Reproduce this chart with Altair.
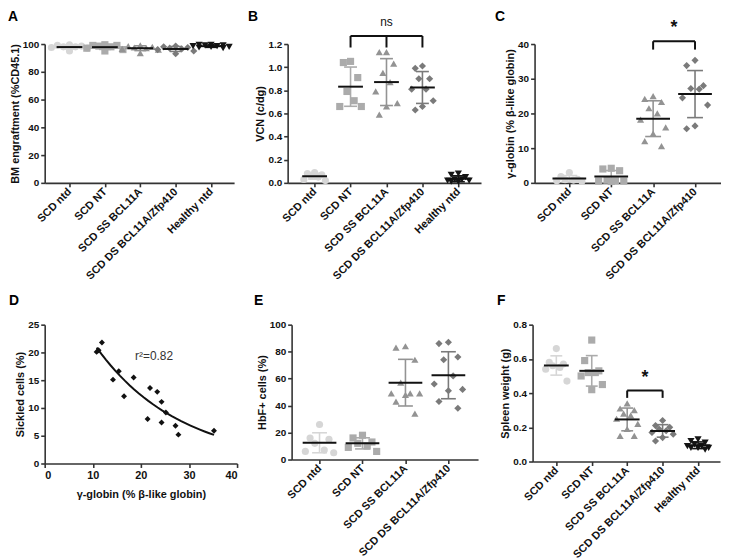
import json
import altair as alt
import pandas as pd

GROUPS = ["SCD ntd", "SCD NT", "SCD SS BCL11A", "SCD DS BCL11A/Zfp410", "Healthy ntd"]
GROUP_COLORS = ["#d6d6d6", "#ababab", "#939393", "#7a7a7a", "#151515"]
GROUP_SHAPES = ["circle", "square", "triangle-up", "diamond", "triangle-down"]

# A: BM engraftment (%CD45.1)
A_SCD_NTD = [99.5, 99.0, 98.5, 98.0, 98.0, 97.5, 97.0, 95.0]
A_SCD_NT = [99.5, 99.0, 99.0, 98.5, 98.0, 97.0, 96.0, 95.0]
A_SCD_SS = [99.0, 98.5, 98.0, 97.5, 97.0, 96.5, 96.0, 93.5]
A_SCD_DS = [98.5, 98.0, 97.5, 97.0, 96.5, 96.0, 95.0, 93.0]
A_HEALTHY = [99.5, 99.5, 99.0, 99.0, 98.5, 98.5, 98.0, 98.0, 97.5, 97.0]

# B: VCN (c/dg)
B_SCD_NTD = [0.09, 0.07, 0.08, 0.05, 0.03, 0.02, 0.06]
B_SCD_NT = [1.05, 1.04, 0.91, 0.79, 0.71, 0.66, 0.66]
B_SCD_SS = [1.13, 1.13, 1.03, 0.95, 0.87, 0.79, 0.69, 0.66, 0.59]
B_SCD_DS = [1.01, 0.99, 0.90, 0.90, 0.81, 0.81, 0.71, 0.63, 0.66]
B_HEALTHY = [0.08, 0.07, 0.05, 0.03, 0.02, 0.02, 0.01, 0.01, 0.03]

# C: gamma-globin (% beta-like globin)
C_SCD_NTD = [3.0, 1.8, 0.6, 0.8, 1.0, 0.5, 0.9]
C_SCD_NT = [4.2, 4.0, 3.5, 0.8, 0.5, 0.6, 0.4, 0.5]
C_SCD_SS = [25.0, 24.2, 23.3, 21.5, 20.0, 18.2, 16.0, 14.2, 12.0, 10.6]
C_SCD_DS = [35.3, 33.8, 28.0, 27.2, 27.0, 24.5, 22.4, 16.4, 15.6]

# D: sickled cells vs gamma-globin
D_GAMMA = [10.8, 11.2, 11.9, 14.2, 15.4, 16.5, 18.5, 21.4, 21.9, 23.4, 24.3, 24.3, 25.2, 27.2, 27.8, 35.2]
D_SICKLED = [20.1, 20.4, 21.8, 15.1, 16.6, 12.1, 15.5, 8.0, 13.6, 12.9, 11.1, 7.4, 9.2, 6.8, 5.2, 5.9]
D_R2_LABEL = "r\u00b2=0.82"
D_R2_AT = (18.8, 19.4)

# E: HbF+ cells (%)
E_SCD_NTD = [26, 16, 15, 12, 6, 5, 7]
E_SCD_NT = [18, 16, 13, 12, 10, 9, 6]
E_SCD_SS = [83, 84, 74, 57, 49, 48, 49, 49, 43, 34]
E_SCD_DS = [86, 87, 76, 74, 62, 56, 51, 52, 43, 38]

# F: Spleen weight (g)
F_SCD_NTD = [0.66, 0.58, 0.57, 0.56, 0.54, 0.55, 0.47]
F_SCD_NT = [0.71, 0.59, 0.53, 0.52, 0.50, 0.52, 0.42, 0.45]
F_SCD_SS = [0.34, 0.31, 0.30, 0.28, 0.27, 0.25, 0.22, 0.19, 0.15, 0.15]
F_SCD_DS = [0.24, 0.21, 0.20, 0.19, 0.18, 0.17, 0.16, 0.14, 0.12]
F_HEALTHY = [0.13, 0.12, 0.11, 0.10, 0.09, 0.09, 0.08, 0.08, 0.07, 0.08]

# significance brackets (annotations)
B_BRACKET = {"ends": [1, 3], "ticks": [1, 2, 3], "top": 1.27, "foot": 1.17, "label": "ns", "label_y": 1.33}
C_BRACKET = {"ends": [2, 3], "ticks": [2, 3], "top": 40.8, "foot": 38.4, "label": "*", "label_y": 42.0}
F_BRACKET = {"ends": [2, 3], "ticks": [2, 3], "top": 0.415, "foot": 0.372, "label": "*", "label_y": 0.438}

FONT = "Liberation Sans"


def panel_letter(letter, dx, dy):
    return alt.Chart(pd.DataFrame([{"t": letter}])).mark_text(
        align="left", baseline="alphabetic", fontSize=14, fontWeight="bold", font=FONT, color="#000000"
    ).encode(x=alt.value(dx), y=alt.value(dy), text="t:N")


def cat_panel(letter, series, ytitle, yticks, yfmt, xdomain, width, height,
              jitter, mean_len, cap_len, dx, dy, bracket=None, label_size=12):
    n = len(series)
    groups = GROUPS[:n]
    rows = []
    for i, vals in enumerate(series):
        for v in vals:
            rows.append({"group": groups[i], "idx": i, "value": v})
    df = pd.DataFrame(rows)
    base = alt.Chart(df)
    xscale = alt.Scale(domain=xdomain, nice=False, zero=False)
    yscale = alt.Scale(domain=[yticks[0], yticks[-1]], nice=False, zero=True)
    xaxis = alt.Axis(values=list(range(n)), labelExpr=json.dumps(groups) + "[datum.value]",
                     labelAngle=-45, labelAlign="right", labelBaseline="middle", labelFontSize=11,
                     title=None, grid=False, labelPadding=3, labelOverlap=False)
    yaxis = alt.Axis(values=yticks, format=yfmt, title=ytitle, grid=False)
    cscale = alt.Scale(domain=groups, range=GROUP_COLORS[:n])
    sscale = alt.Scale(domain=groups, range=GROUP_SHAPES[:n])

    offs = "[0, -1, 1, -0.5, 0.5, -1.5, 1.5][(datum.rank - 1) % 7]"
    points = base.transform_window(
        rank="row_number()", groupby=["idx"], sort=[alt.SortField("value", order="descending")]
    ).transform_calculate(
        xj=f"datum.idx + {offs} * {jitter}"
    ).mark_point(filled=True, size=52, opacity=1).encode(
        x=alt.X("xj:Q", scale=xscale, axis=xaxis),
        y=alt.Y("value:Q", scale=yscale, axis=yaxis),
        color=alt.Color("group:N", scale=cscale, legend=None),
        shape=alt.Shape("group:N", scale=sscale, legend=None),
    )
    stats = base.transform_aggregate(
        mean="mean(value)", sd="stdev(value)", groupby=["idx", "group"]
    ).transform_calculate(lo="datum.mean - datum.sd", hi="datum.mean + datum.sd")
    vbar = stats.mark_rule(strokeWidth=1.6).encode(
        x=alt.X("idx:Q", scale=xscale, axis=xaxis),
        y=alt.Y("lo:Q", scale=yscale, axis=yaxis), y2="hi:Q",
        color=alt.Color("group:N", scale=cscale, legend=None),
    )
    cap_lo = stats.mark_tick(orient="horizontal", size=cap_len, thickness=1.6, opacity=1).encode(
        x=alt.X("idx:Q", scale=xscale, axis=xaxis),
        y=alt.Y("lo:Q", scale=yscale, axis=yaxis),
        color=alt.Color("group:N", scale=cscale, legend=None),
    )
    cap_hi = stats.mark_tick(orient="horizontal", size=cap_len, thickness=1.6, opacity=1).encode(
        x=alt.X("idx:Q", scale=xscale, axis=xaxis),
        y=alt.Y("hi:Q", scale=yscale, axis=yaxis),
        color=alt.Color("group:N", scale=cscale, legend=None),
    )
    mean = stats.mark_tick(orient="horizontal", size=mean_len, thickness=2, opacity=1, color="#111111").encode(
        x=alt.X("idx:Q", scale=xscale, axis=xaxis),
        y=alt.Y("mean:Q", scale=yscale, axis=yaxis),
    )
    layers = [points, vbar, cap_lo, cap_hi, mean]
    if bracket is not None:
        segs = [{"x": bracket["ends"][0], "x2": bracket["ends"][1], "y": bracket["top"], "y2": bracket["top"]}]
        for t in bracket["ticks"]:
            segs.append({"x": t, "x2": t, "y": bracket["foot"], "y2": bracket["top"]})
        seg_df = pd.DataFrame(segs)
        br = alt.Chart(seg_df).mark_rule(color="#111111", strokeWidth=2).encode(
            x=alt.X("x:Q", scale=xscale, axis=xaxis), x2="x2:Q",
            y=alt.Y("y:Q", scale=yscale, axis=yaxis), y2="y2:Q",
        )
        lab_df = pd.DataFrame([{"x": sum(bracket["ends"]) / 2, "y": bracket["label_y"], "t": bracket["label"]}])
        lab = alt.Chart(lab_df).mark_text(fontSize=label_size, baseline="bottom", color="#111111",
                                          fontWeight="bold" if bracket["label"] == "*" else "normal").encode(
            x=alt.X("x:Q", scale=xscale, axis=xaxis),
            y=alt.Y("y:Q", scale=yscale, axis=yaxis),
            text="t:N",
        )
        layers += [br, lab]
    layers.append(panel_letter(letter, dx, dy))
    return alt.layer(*layers).properties(width=width, height=height)


A = cat_panel("A", [A_SCD_NTD, A_SCD_NT, A_SCD_SS, A_SCD_DS, A_HEALTHY],
              "BM engraftment (%CD45.1)", [0, 20, 40, 60, 80, 100], "d",
              [-0.7, 4.65], 191, 140, 0.34, 26, 12, -37, -23)
B = cat_panel("B", [B_SCD_NTD, B_SCD_NT, B_SCD_SS, B_SCD_DS, B_HEALTHY],
              "VCN (c/dg)", [0, 0.2, 0.4, 0.6, 0.8, 1.0, 1.2], ".1f",
              [-0.75, 4.63], 195, 140, 0.2, 25, 13, -40, -23, B_BRACKET, 12)
C = cat_panel("C", [C_SCD_NTD, C_SCD_NT, C_SCD_SS, C_SCD_DS],
              "\u03b3-globin (% \u03b2-like globin)", [0, 10, 20, 30, 40], "d",
              [-0.83, 3.62], 188, 140, 0.2, 34, 16, -40, -23, C_BRACKET, 18)

# D scatter
d_df = pd.DataFrame({"gamma": D_GAMMA, "sickled": D_SICKLED})
dx_scale = alt.Scale(domain=[0, 40], nice=False)
dy_scale = alt.Scale(domain=[0, 25], nice=False)
d_xaxis = alt.Axis(values=[0, 10, 20, 30, 40], title="\u03b3-globin (% \u03b2-like globin)", grid=False,
                   titlePadding=8, labelFontSize=11)
d_yaxis = alt.Axis(values=[0, 5, 10, 15, 20, 25], title="Sickled cells (%)", grid=False)
d_base = alt.Chart(d_df)
d_pts = d_base.mark_point(shape="diamond", filled=True, size=36, color="#111111", opacity=1).encode(
    x=alt.X("gamma:Q", scale=dx_scale, axis=d_xaxis),
    y=alt.Y("sickled:Q", scale=dy_scale, axis=d_yaxis),
)
d_fit = d_base.transform_regression("gamma", "sickled", method="exp").mark_line(
    color="#111111", strokeWidth=2).encode(
    x=alt.X("gamma:Q", scale=dx_scale, axis=d_xaxis),
    y=alt.Y("sickled:Q", scale=dy_scale, axis=d_yaxis),
)
d_txt_df = pd.DataFrame([{"x": D_R2_AT[0], "y": D_R2_AT[1], "t": D_R2_LABEL}])
d_txt = alt.Chart(d_txt_df).mark_text(align="left", fontSize=12, color="#333333", font=FONT).encode(
    x=alt.X("x:Q", scale=dx_scale, axis=d_xaxis),
    y=alt.Y("y:Q", scale=dy_scale, axis=d_yaxis),
    text="t:N",
)
D = alt.layer(d_pts, d_fit, d_txt, panel_letter("D", -36, -20)).properties(width=194, height=140)

E = cat_panel("E", [E_SCD_NTD, E_SCD_NT, E_SCD_SS, E_SCD_DS],
              "HbF+ cells (%)", [0, 20, 40, 60, 80, 100], "d",
              [-0.65, 3.69], 188, 136, 0.22, 34, 15, -38, -20)
F = cat_panel("F", [F_SCD_NTD, F_SCD_NT, F_SCD_SS, F_SCD_DS, F_HEALTHY],
              "Spleen weight (g)", [0, 0.2, 0.4, 0.6, 0.8], ".1f",
              [-0.67, 4.62], 189, 138, 0.2, 25, 12, -36, -20, F_BRACKET, 18)

row1 = alt.hconcat(A, B, C, spacing=54, bounds="flush")
row2 = alt.hconcat(D, E, F, spacing=55, bounds="flush")
chart = alt.vconcat(row1, row2, spacing=283, bounds="flush").properties(
    padding={"left": 0, "top": 0, "right": 0, "bottom": 0}
).configure(font=FONT).configure_axis(
    domainColor="#333333", domainWidth=1.6, tickColor="#333333", tickWidth=1.6, tickSize=4,
    labelFont=FONT, labelFontSize=10, labelFontWeight="bold", labelColor="#111111", labelPadding=2,
    titleFont=FONT, titleFontSize=11, titleFontWeight="bold", titleColor="#111111", titlePadding=2,
    grid=False,
).configure_view(stroke=None)

chart.save("out.html", embed_options={"renderer": "svg", "actions": False})
